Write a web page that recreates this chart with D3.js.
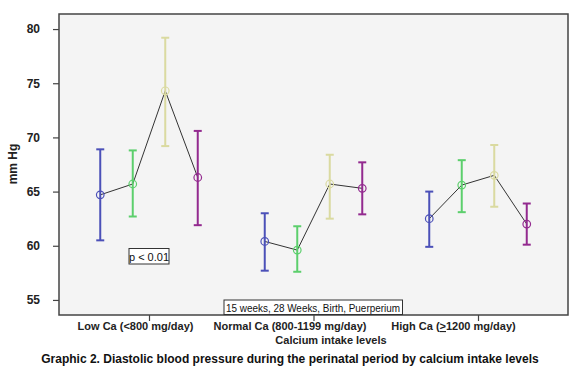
<!DOCTYPE html>
<html><head><meta charset="utf-8">
<script src="https://cdn.jsdelivr.net/npm/d3@7"></script>
<style>body{margin:0;background:#fff}svg{display:block;font-family:"Liberation Sans",Arial,sans-serif}</style>
</head><body><svg id="c" width="579" height="383"></svg>
<script>
const categories = ["Low Ca (<800 mg/day)", "Normal Ca (800-1199 mg/day)", "High Ca (>1200 mg/day)"];
const series = ["15 weeks", "28 Weeks", "Birth", "Puerperium"];
const means = [
  [64.7, 65.7, 74.3, 66.3],
  [60.4, 59.6, 65.7, 65.3],
  [62.5, 65.6, 66.5, 62.0]
];
const upper = [
  [68.9, 68.8, 79.2, 70.6],
  [63.0, 61.8, 68.4, 67.7],
  [65.0, 67.9, 69.3, 63.9]
];
const lower = [
  [60.5, 62.7, 69.2, 61.9],
  [57.7, 57.6, 62.5, 62.9],
  [59.9, 63.1, 63.6, 60.1]
];
const yTicks = [55, 60, 65, 70, 75, 80];
const colors = ["#4b50b8", "#5ccf6c", "#dadaa0", "#932a8f"];
const labelShift = [-13.5, -23.5, -24.5];

const svg = d3.select("#c");
const L = 59, R = 568, T = 14, B = 315;
const y = d3.scaleLinear().domain([53.61, 81.39]).range([B, T]);
const x = d3.scalePoint().domain(categories).range([149, 478]);
const xs = d3.scalePoint().domain(series).range([-48.75, 48.75]);

svg.append("rect").attr("x", L).attr("y", T).attr("width", R - L).attr("height", B - T)
  .attr("fill", "#f4f4f4");

// y axis
const ya = svg.append("g").attr("transform", `translate(${L},0)`)
  .call(d3.axisLeft(y).tickValues(yTicks).tickSize(6).tickPadding(13).tickFormat(d3.format("d")));
ya.select(".domain").remove();
ya.selectAll("line").attr("stroke", "#444").attr("stroke-width", 1.2);
ya.selectAll("text").attr("font-size", 12).attr("font-weight", "bold").attr("fill", "#222")
  .attr("font-family", "Liberation Sans, Arial, sans-serif");

// x axis
const xa = svg.append("g").attr("transform", `translate(0,${B})`)
  .call(d3.axisBottom(x).tickSize(6).tickFormat(""));
xa.select(".domain").remove();
xa.selectAll("line").attr("stroke", "#444").attr("stroke-width", 1.2);
categories.forEach((c, i) => {
  const t = svg.append("text").attr("x", x(c) + labelShift[i]).attr("y", 330)
    .attr("text-anchor", "middle").attr("font-size", 11).attr("font-weight", "bold").attr("fill", "#222");
  const k = c.indexOf("(>");
  if (k >= 0) {
    t.append("tspan").text(c.slice(0, k + 1));
    t.append("tspan").attr("text-decoration", "underline").text(">");
    t.append("tspan").text(c.slice(k + 2));
  } else {
    t.text(c);
  }
});
svg.append("text").attr("x", 331).attr("y", 344).attr("text-anchor", "middle")
  .attr("font-size", 11).attr("font-weight", "bold").attr("fill", "#222").text("Calcium intake levels");

svg.append("text").attr("transform", "translate(17,164) rotate(-90)").attr("text-anchor", "middle")
  .attr("font-size", 12).attr("font-weight", "bold").attr("fill", "#222").text("mm Hg");

svg.append("text").attr("x", 290).attr("y", 363).attr("text-anchor", "middle")
  .attr("font-size", 12).attr("font-weight", "bold").attr("fill", "#111")
  .text("Graphic 2. Diastolic blood pressure during the perinatal period by calcium intake levels");

// connecting lines
categories.forEach((c, i) => {
  const line = d3.line().x((d, j) => x(c) + xs(series[j])).y(d => y(d));
  svg.append("path").attr("d", line(means[i])).attr("fill", "none").attr("stroke", "#333").attr("stroke-width", 1);
});

// error bars
categories.forEach((c, i) => {
  series.forEach((s, j) => {
    const cx = x(c) + xs(s);
    const g = svg.append("g").attr("stroke", colors[j]).attr("stroke-width", 2).attr("fill", "none");
    g.append("line").attr("x1", cx).attr("x2", cx).attr("y1", y(upper[i][j])).attr("y2", y(lower[i][j]));
    g.append("line").attr("x1", cx - 4).attr("x2", cx + 4).attr("y1", y(upper[i][j])).attr("y2", y(upper[i][j]));
    g.append("line").attr("x1", cx - 4).attr("x2", cx + 4).attr("y1", y(lower[i][j])).attr("y2", y(lower[i][j]));
    g.append("circle").attr("cx", cx).attr("cy", y(means[i][j])).attr("r", 3.8).attr("stroke-width", 1.2);
  });
});

// frame
svg.append("rect").attr("x", L).attr("y", T).attr("width", R - L).attr("height", B - T)
  .attr("fill", "none").attr("stroke", "#444").attr("stroke-width", 1.5);

// p box
const pg = svg.append("g");
pg.append("rect").attr("x", 129).attr("y", 248.5).attr("width", 40).attr("height", 15.5)
  .attr("fill", "#fff").attr("stroke", "#333").attr("stroke-width", 1);
pg.append("text").attr("x", 149).attr("y", 260.5).attr("text-anchor", "middle").attr("font-size", 11)
  .attr("fill", "#111").text("p < 0.01");

// legend box
const lg = svg.append("g");
lg.append("rect").attr("x", 224).attr("y", 300).attr("width", 178.5).attr("height", 14.5)
  .attr("fill", "#fff").attr("stroke", "#333").attr("stroke-width", 1);
lg.append("text").attr("x", 313).attr("y", 311.5).attr("text-anchor", "middle").attr("font-size", 11)
  .attr("fill", "#111").attr("textLength", 174).attr("lengthAdjust", "spacingAndGlyphs").text(series.join(", "));
</script></body></html>
